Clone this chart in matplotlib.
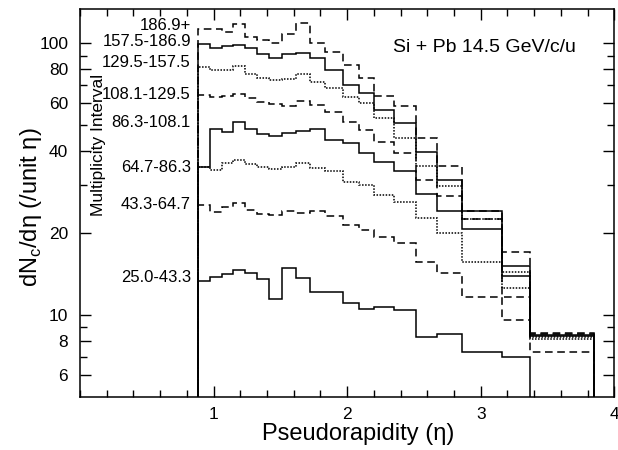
import matplotlib
matplotlib.use("Agg")
import matplotlib.pyplot as plt
from matplotlib.ticker import FixedLocator, FixedFormatter, MultipleLocator, NullFormatter

plt.rcParams['font.family'] = ['Liberation Sans', 'DejaVu Sans']
plt.rcParams['mathtext.fontset'] = 'custom'
plt.rcParams['mathtext.rm'] = 'Liberation Sans'

# pseudorapidity bin edges
eta_edges = [0.886, 0.974, 1.061, 1.148, 1.236, 1.324, 1.416, 1.511, 1.618, 1.723,
             1.835, 1.968, 2.085, 2.202, 2.347, 2.517, 2.672, 2.861, 3.161, 3.371, 3.850]

intervals = ["186.9+", "157.5-186.9", "129.5-157.5", "108.1-129.5",
             "86.3-108.1", "64.7-86.3", "43.3-64.7", "25.0-43.3"]

# dNc/deta per bin, one list per multiplicity interval
dn_186 = [113, 113, 110, 117.8, 105, 102.8, 100, 107.8, 119, 100.5,
          93.1, 83.2, 74.3, 64.0, 58.8, 44.7, 35.4, 24.1, 17.1, 8.6]
dn_157 = [99.4, 96.1, 97.3, 98.7, 96.1, 91.0, 88.1, 91.0, 91.7, 88.1,
          79.8, 70.2, 65.5, 56.8, 50.8, 39.9, 31.4, 20.7, 15.2, 8.45]
dn_129 = [81.8, 79.8, 79.8, 82.7, 77.1, 74.5, 73.3, 73.9, 76.9, 72.2,
          68.3, 63.6, 60.3, 53.1, 44.9, 35.4, 29.8, 22.5, 14.4, 8.3]
dn_108 = [64.2, 63.4, 64.0, 64.9, 62.6, 60.8, 59.5, 58.5, 61.1, 59.3,
          56.0, 51.4, 48.0, 43.4, 39.6, 31.4, 27.3, 22.5, 11.7, 8.5]
dn_86 = [35.0, 48.3, 47.3, 51.4, 48.2, 46.3, 45.5, 46.9, 47.6, 48.3,
         44.1, 42.8, 39.4, 36.7, 33.8, 27.8, 24.1, 24.1, 13.9, 8.4]
dn_64 = [34.9, 34.2, 36.2, 37.1, 35.8, 34.9, 34.4, 35.1, 36.3, 34.8,
         34.0, 30.9, 30.1, 27.7, 26.1, 22.7, 20.1, 15.7, 12.6, 8.14]
dn_43 = [25.4, 23.9, 24.9, 25.8, 24.4, 23.6, 23.3, 24.1, 23.7, 24.2,
         23.1, 21.4, 20.6, 19.4, 18.4, 15.7, 14.3, 11.7, 9.6, 7.33]
dn_25 = [13.3, 13.8, 14.2, 14.6, 14.3, 13.6, 11.5, 14.9, 13.7, 12.2,
         12.2, 11.1, 10.5, 10.7, 10.4, 8.3, 8.5, 7.3, 7.0]

series = [dn_186, dn_157, dn_129, dn_108, dn_86, dn_64, dn_43, dn_25]
styles = [(0, (5, 3)), '-', (0, (1, 1)), (0, (5, 3)), '-', (0, (1, 1)), (0, (5, 3)), '-']
label_y = [116, 101, 84.6, 64.5, 50.9, 35.0, 25.4, 13.7]

fig = plt.figure(figsize=(6.18, 4.5), dpi=100)
ax = fig.add_axes([0.1295, 0.118, 0.8645, 0.861])

for vals, ls in zip(series, styles):
    ax.stairs(vals, eta_edges[:len(vals) + 1], baseline=1, color='black',
              linewidth=1.1, linestyle=ls)

for name, y in zip(intervals, label_y):
    ax.text(0.83, y, name, ha='right', va='center', fontsize=12)

ax.set_yscale('log')
ax.set_xlim(0, 4)
ax.set_ylim(5, 133)

ax.xaxis.set_major_locator(MultipleLocator(1))
ax.xaxis.set_minor_locator(MultipleLocator(0.2))
ax.yaxis.set_major_locator(FixedLocator([6, 8, 10, 20, 40, 60, 80, 100]))
ax.yaxis.set_major_formatter(FixedFormatter(['6', '8', '10', '20', '40', '60', '80', '100']))
ax.yaxis.set_minor_locator(FixedLocator([7, 9, 30, 50, 70, 90]))
ax.yaxis.set_minor_formatter(NullFormatter())
ax.set_xticks([1, 2, 3, 4])
ax.set_xticklabels(['1', '2', '3', '4'])

ax.tick_params(which='both', direction='in', top=True, right=True, labelsize=12.5, width=1.0)
ax.tick_params(axis='y', which='major', length=8, pad=8.5)
ax.tick_params(axis='x', which='major', length=8, pad=7)
ax.tick_params(which='minor', length=5)
for sp in ax.spines.values():
    sp.set_linewidth(1.1)

ax.set_xlabel('Pseudorapidity (η)', fontsize=17)
ax.xaxis.set_label_coords(0.52, -0.068)
ax.set_ylabel('dN$_\\mathrm{c}$/dη (/unit η)', fontsize=17)
ax.yaxis.set_label_coords(-0.068, 0.49)

ax.text(0.757, 0.903, 'Si + Pb 14.5 GeV/c/u', transform=ax.transAxes,
        ha='center', va='center', fontsize=14)
ax.text(0.034, 0.65, 'Multiplicity Interval', transform=ax.transAxes,
        ha='center', va='center', rotation=90, fontsize=12.5)

fig.savefig('out.png', dpi=100)
